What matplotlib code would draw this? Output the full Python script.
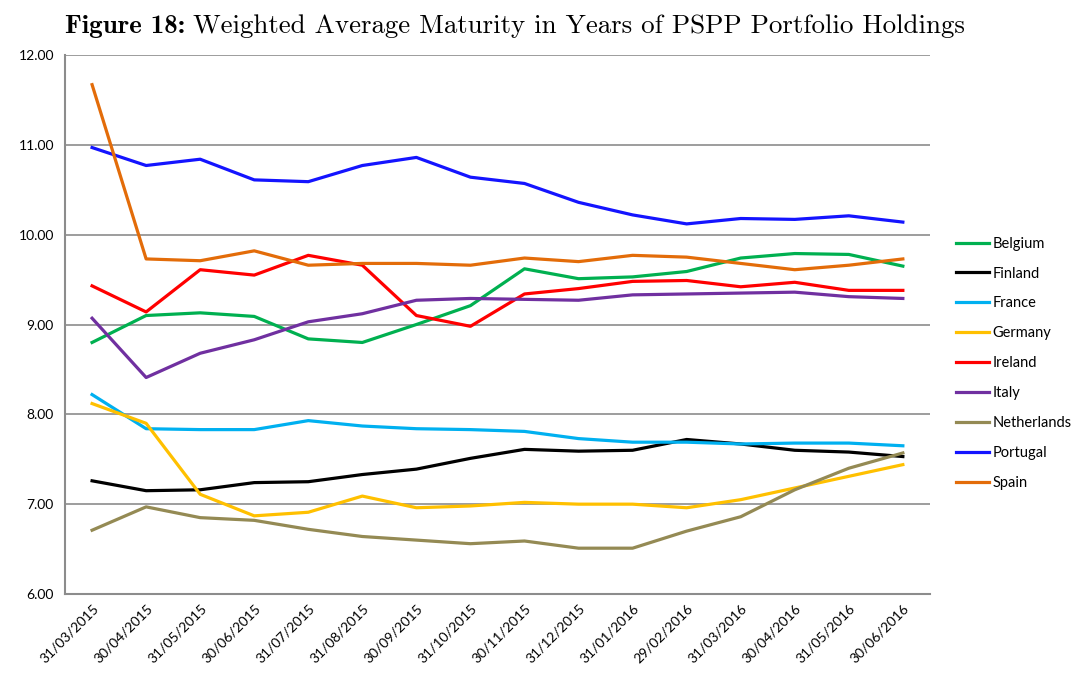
import matplotlib
matplotlib.use("Agg")
import matplotlib.pyplot as plt
import numpy as np

dates = ["31/03/2015", "30/04/2015", "31/05/2015", "30/06/2015", "31/07/2015",
         "31/08/2015", "30/09/2015", "31/10/2015", "30/11/2015", "31/12/2015",
         "31/01/2016", "29/02/2016", "31/03/2016", "30/04/2016", "31/05/2016",
         "30/06/2016"]

belgium = [8.80, 9.10, 9.13, 9.09, 8.84, 8.80, 9.00, 9.21, 9.62, 9.51, 9.53, 9.59, 9.74, 9.79, 9.78, 9.65]
finland = [7.26, 7.15, 7.16, 7.24, 7.25, 7.33, 7.39, 7.51, 7.61, 7.59, 7.60, 7.72, 7.67, 7.60, 7.58, 7.53]
france = [8.22, 7.84, 7.83, 7.83, 7.93, 7.87, 7.84, 7.83, 7.81, 7.73, 7.69, 7.69, 7.67, 7.68, 7.68, 7.65]
germany = [8.12, 7.90, 7.11, 6.87, 6.91, 7.09, 6.96, 6.98, 7.02, 7.00, 7.00, 6.96, 7.05, 7.18, 7.31, 7.44]
ireland = [9.43, 9.14, 9.61, 9.55, 9.77, 9.66, 9.10, 8.98, 9.34, 9.40, 9.48, 9.49, 9.42, 9.47, 9.38, 9.38]
italy = [9.07, 8.41, 8.68, 8.83, 9.03, 9.12, 9.27, 9.29, 9.28, 9.27, 9.33, 9.34, 9.35, 9.36, 9.31, 9.29]
netherlands = [6.71, 6.97, 6.85, 6.82, 6.72, 6.64, 6.60, 6.56, 6.59, 6.51, 6.51, 6.70, 6.86, 7.16, 7.40, 7.57]
portugal = [10.97, 10.77, 10.84, 10.61, 10.59, 10.77, 10.86, 10.64, 10.57, 10.36, 10.22, 10.12, 10.18, 10.17, 10.21, 10.14]
spain = [11.67, 9.73, 9.71, 9.82, 9.66, 9.68, 9.68, 9.66, 9.74, 9.70, 9.77, 9.75, 9.68, 9.61, 9.66, 9.73]

series = [
    ("Belgium", belgium, "#00B050"),
    ("Finland", finland, "#000000"),
    ("France", france, "#00B0F0"),
    ("Germany", germany, "#FFC000"),
    ("Ireland", ireland, "#FF0000"),
    ("Italy", italy, "#7030A0"),
    ("Netherlands", netherlands, "#948A54"),
    ("Portugal", portugal, "#1414FF"),
    ("Spain", spain, "#E36C09"),
]

yticks = [6, 7, 8, 9, 10, 11, 12]

fig = plt.figure(figsize=(10.77, 6.75), dpi=100)
ax = fig.add_axes([0.0604, 0.12, 0.803, 0.7985])

x = np.arange(len(dates))
for name, vals, col in series:
    ax.plot(x, vals, color=col, lw=2.3, label=name, solid_joinstyle="round")

ax.set_xlim(-0.5, len(dates) - 0.5)
ax.set_ylim(6, 12)
ax.set_yticks(yticks)
ax.set_yticklabels([f"{v:.2f}" for v in yticks], fontfamily="Lato", fontsize=10)
ax.set_xticks(x)
ax.set_xticklabels(dates, rotation=45, ha="right", rotation_mode="anchor",
                   fontfamily="Lato", fontsize=10)
ax.tick_params(axis="both", length=0, pad=8)
ax.tick_params(axis="x", pad=6)
ax.grid(axis="y", color="#8C8C8C", lw=1.2)
ax.set_axisbelow(True)
for s in ["top", "right"]:
    ax.spines[s].set_visible(False)
for s in ["left", "bottom"]:
    ax.spines[s].set_color("#8C8C8C")
    ax.spines[s].set_linewidth(1.5)

leg = fig.legend(loc="upper left", bbox_to_anchor=(0.882, 0.658), frameon=False,
                 prop={"family": "Lato", "size": 10.5}, handlelength=2.3,
                 handletextpad=0.2, labelspacing=1.09, borderaxespad=0)

t1 = fig.text(0.0604, 0.951, "Figure 18:", fontfamily="cmb10", fontsize=19.4,
              va="baseline", ha="left")
fig.canvas.draw()
bb = t1.get_window_extent(renderer=fig.canvas.get_renderer())
x2 = (bb.x1 + 8) / fig.bbox.width
fig.text(x2, 0.951, "Weighted Average Maturity in Years of PSPP Portfolio Holdings",
         fontfamily="cmr10", fontsize=19.4, va="baseline", ha="left")

fig.savefig("out.png", dpi=100)
